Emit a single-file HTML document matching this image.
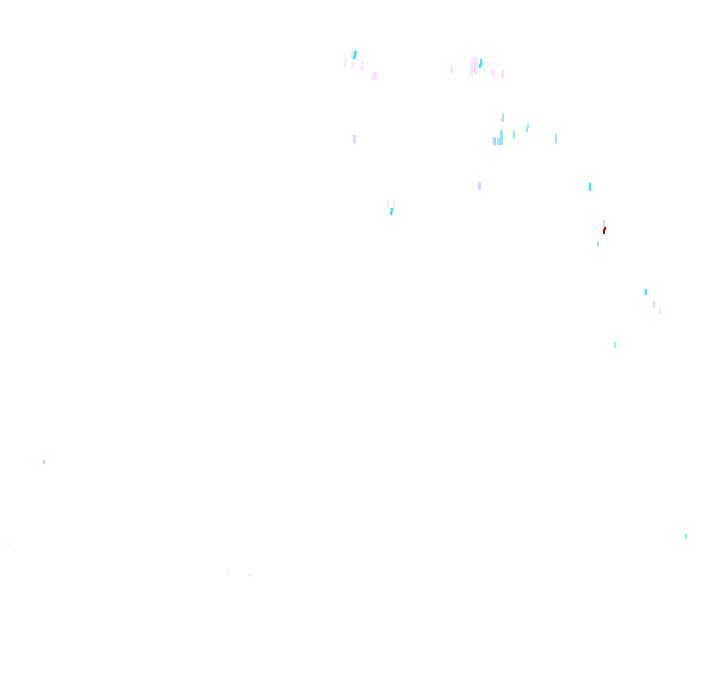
<!DOCTYPE html>
<html><head><meta charset="utf-8"><style>html,body{margin:0;padding:0;background:#fff;width:720px;height:692px;overflow:hidden}svg{display:block}</style></head>
<body>
<svg width="720" height="692" viewBox="0 0 720 692" shape-rendering="crispEdges">
<rect width="720" height="692" fill="#fff"/>
<g fill="#fbe2fb">
<rect x="345" y="58" width="2" height="5"/><rect x="344" y="62" width="2" height="5"/>
<rect x="352" y="50" width="2" height="5"/><rect x="351" y="53" width="2" height="6"/><rect x="351" y="62" width="3" height="6"/>
<rect x="361" y="61" width="3" height="2"/><rect x="361" y="62" width="2" height="8"/>
<rect x="373" y="72" width="5" height="3"/><rect x="372" y="75" width="5" height="5"/>
<rect x="450" y="65" width="3" height="8"/>
<rect x="471" y="58" width="7" height="9"/><rect x="470" y="66" width="3" height="10"/><rect x="474" y="67" width="3" height="8"/>
<rect x="492" y="70" width="3" height="8"/>
<rect x="501" y="70" width="3" height="9"/>
<rect x="387" y="200" width="2" height="7"/><rect x="393" y="201" width="2" height="7"/>
<rect x="643" y="289" width="2" height="6"/>
<rect x="659" y="308" width="2" height="6"/>
<rect x="7" y="543" width="3" height="3"/>
<rect x="228" y="570" width="1" height="5"/>
<rect x="249" y="574" width="2" height="3"/>
</g>
<g fill="#1ef0ff">
<rect x="354" y="51" width="3" height="2"/><rect x="354" y="52" width="2" height="7"/><rect x="353" y="56" width="2" height="3"/>
<rect x="480" y="59" width="2" height="7"/><rect x="479" y="64" width="2" height="4"/>
<rect x="391" y="208" width="2" height="4"/><rect x="390" y="211" width="2" height="4"/>
<rect x="589" y="183" width="2" height="8"/>
<rect x="645" y="289" width="2" height="6"/>
</g>
<rect x="353" y="135" width="3" height="8" fill="#dcd6fb"/>
<rect x="502" y="113" width="2" height="7" fill="#b0dcff"/><rect x="501" y="118" width="3" height="4" fill="#b0dcff"/>
<rect x="493" y="137" width="3" height="8" fill="#a8d8fa"/>
<rect x="497" y="138" width="4" height="7" fill="#a4e4ff"/>
<rect x="500" y="130" width="3" height="15" fill="#90e4ff"/>
<rect x="513" y="131" width="2" height="8" fill="#90e8ff"/>
<rect x="527" y="124" width="2" height="4" fill="#90e8ff"/><rect x="526" y="127" width="2" height="5" fill="#90e8ff"/>
<rect x="555" y="134" width="2" height="9" fill="#90e8ff"/>
<rect x="478" y="182" width="3" height="8" fill="#ccdcff"/>
<rect x="603" y="220" width="2" height="7" fill="#b8e0ff"/>
<rect x="603" y="229" width="2" height="5" fill="#d40000"/><rect x="604" y="227" width="2" height="3" fill="#d40000"/>
<rect x="597" y="241" width="2" height="6" fill="#a8e4ff"/>
<rect x="653" y="301" width="2" height="7" fill="#ccdcff"/>
<rect x="614" y="342" width="2" height="6" fill="#90eeff"/>
<rect x="43" y="460" width="2" height="4" fill="#a8dcff"/>
<rect x="685" y="534" width="2" height="5" fill="#90e4ff"/>
</svg>
</body></html>
